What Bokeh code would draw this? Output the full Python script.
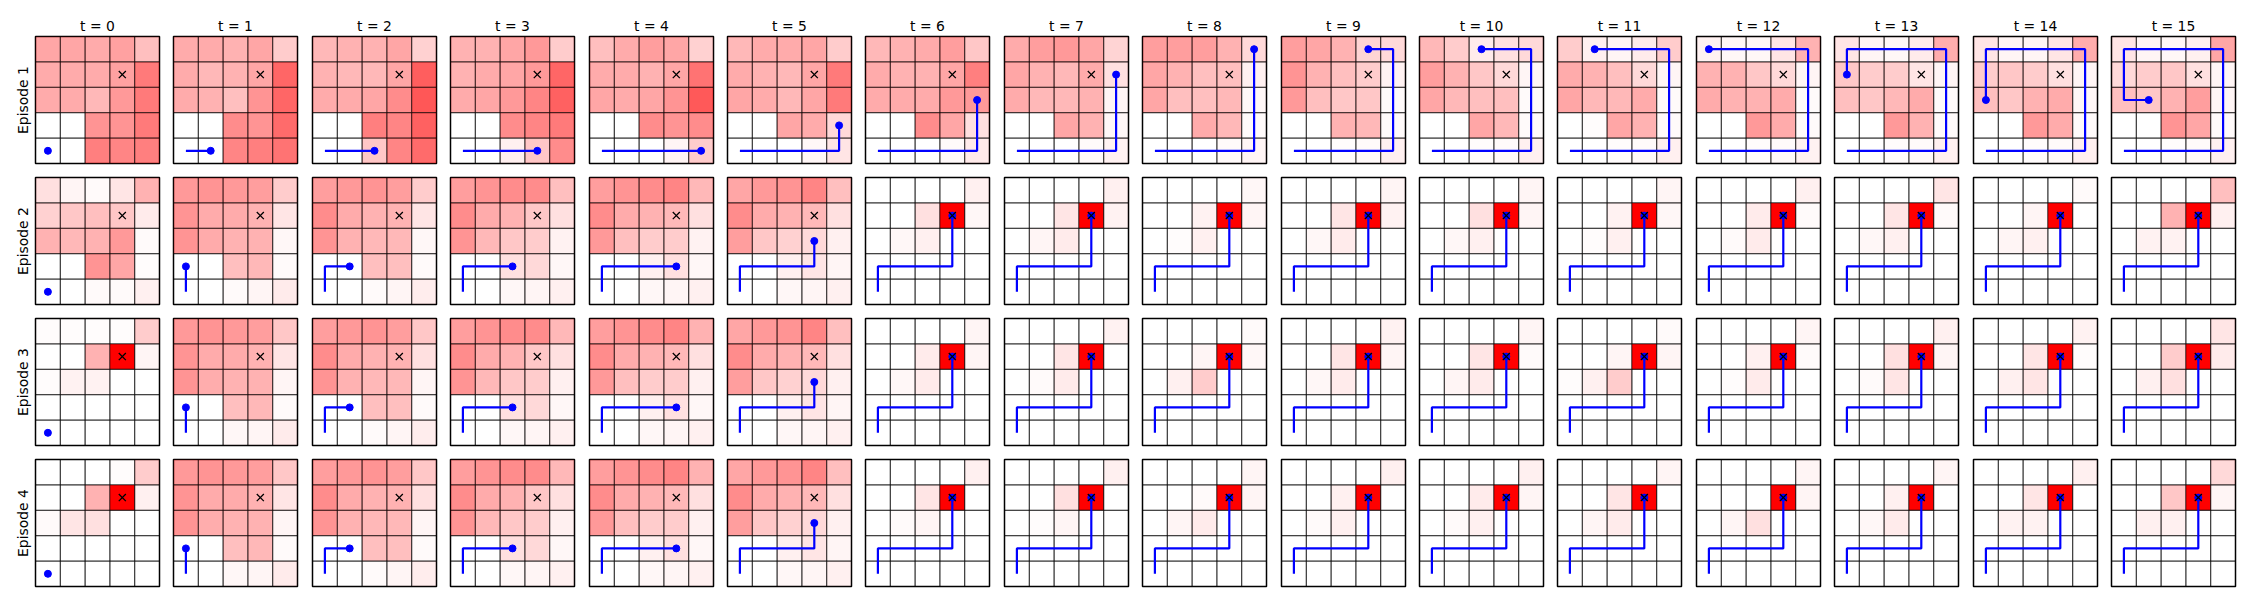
from bokeh.plotting import figure
from bokeh.layouts import gridplot
from bokeh.models import Title, Range1d, ColumnDataSource
from bokeh.embed import file_html
from bokeh.resources import INLINE

# ---------------- data ----------------
EPISODES = ["Episode 1", "Episode 2", "Episode 3", "Episode 4"]
T_LABELS = ["t = %d" % t for t in range(16)]
GOAL = (3, 3)

# agent positions (col, row) with row 0 at the bottom
E1_POS = [(0, 0), (1, 0), (2, 0), (3, 0), (4, 0), (4, 1), (4, 2), (4, 3),
          (4, 4), (3, 4), (2, 4), (1, 4), (0, 4), (0, 3), (0, 2), (1, 2)]
E234_POS = [(0, 0), (0, 1), (1, 1), (2, 1), (3, 1), (3, 2), (3, 3)]

Z = [0, 0, 0, 0, 0]
# cell intensity (percent), each grid listed top row first
HEAT_E1 = [
    [[35, 35, 33, 37, 25], [33, 33, 33, 37, 52], [33, 33, 28, 40, 52], [0, 0, 42, 42, 52], [0, 0, 50, 48, 50]],
    [[33, 33, 30, 35, 20], [33, 28, 30, 35, 60], [33, 30, 25, 42, 60], [0, 0, 45, 42, 58], [0, 0, 48, 50, 55]],
    [[28, 30, 30, 35, 18], [30, 28, 28, 35, 63], [33, 33, 35, 45, 66], [0, 0, 50, 48, 62], [0, 0, 22, 48, 58]],
    [[30, 30, 35, 40, 20], [30, 33, 35, 40, 60], [33, 35, 40, 48, 62], [0, 0, 45, 48, 52], [0, 0, 6, 22, 45]],
    [[25, 33, 38, 35, 18], [33, 33, 30, 35, 55], [35, 33, 35, 42, 65], [0, 0, 45, 42, 45], [0, 0, 0, 4, 20]],
    [[28, 33, 33, 35, 20], [33, 30, 28, 35, 52], [35, 33, 28, 35, 52], [0, 0, 35, 33, 15], [0, 0, 0, 3, 10]],
    [[28, 30, 33, 38, 22], [33, 30, 30, 35, 50], [33, 33, 33, 40, 40], [0, 0, 45, 35, 12], [0, 0, 0, 2, 8]],
    [[33, 38, 40, 35, 17], [35, 30, 28, 33, 12], [33, 28, 28, 30, 4], [0, 0, 35, 30, 3], [0, 0, 0, 2, 5]],
    [[38, 38, 38, 30, 15], [35, 30, 25, 25, 6], [35, 25, 25, 28, 3], [0, 0, 33, 28, 2], [0, 0, 0, 2, 4]],
    [[38, 35, 30, 17, 15], [42, 30, 25, 20, 5], [40, 25, 22, 22, 2], [0, 0, 30, 28, 2], [0, 0, 1, 2, 6]],
    [[28, 20, 8, 12, 15], [38, 30, 22, 15, 4], [35, 28, 25, 25, 2], [0, 0, 35, 28, 2], [0, 0, 1, 2, 6]],
    [[20, 6, 4, 8, 20], [33, 30, 25, 15, 4], [35, 28, 28, 33, 2], [0, 1, 35, 30, 2], [0, 0, 1, 2, 6]],
    [[5, 3, 3, 10, 30], [30, 30, 22, 15, 4], [33, 30, 30, 33, 2], [0, 0, 40, 33, 2], [0, 0, 1, 2, 5]],
    [[10, 4, 3, 8, 32], [22, 20, 20, 10, 4], [25, 22, 28, 33, 2], [0, 0, 40, 30, 2], [0, 0, 1, 2, 6]],
    [[10, 4, 4, 10, 32], [20, 22, 20, 12, 4], [25, 22, 30, 33, 3], [0, 0, 40, 33, 2], [0, 0, 1, 2, 6]],
    [[10, 4, 3, 6, 35], [15, 20, 22, 12, 4], [25, 22, 30, 38, 4], [0, 0, 42, 35, 2], [0, 0, 1, 2, 6]],
]
HEAT_E2 = [
    [[12, 4, 2, 10, 30], [18, 22, 25, 22, 8], [30, 28, 30, 40, 2], [0, 0, 42, 35, 1], [0, 0, 2, 2, 6]],
    [[40, 42, 40, 38, 20], [42, 33, 33, 30, 10], [42, 33, 30, 30, 3], [0, 0, 25, 28, 2], [0, 0, 2, 4, 8]],
    [[38, 40, 42, 38, 20], [45, 33, 30, 30, 10], [42, 30, 28, 28, 3], [0, 0, 25, 25, 2], [0, 0, 2, 4, 7]],
    [[38, 42, 45, 45, 25], [45, 33, 30, 22, 12], [42, 28, 22, 20, 5], [0, 0, 12, 15, 3], [0, 0, 3, 4, 6]],
    [[38, 42, 45, 48, 28], [45, 33, 30, 28, 12], [40, 25, 20, 20, 5], [0, 0, 6, 12, 3], [0, 0, 3, 4, 6]],
    [[35, 40, 42, 48, 25], [45, 33, 30, 28, 12], [38, 22, 18, 15, 6], [0, 0, 6, 10, 4], [0, 0, 3, 4, 6]],
    [[0, 0, 0, 0, 6], [0, 0, 12, 100, 3], [0, 3, 6, 0, 0], Z, Z],
    [[0, 0, 0, 0, 6], [0, 0, 10, 100, 5], [0, 4, 8, 0, 0], Z, Z],
    [[0, 0, 0, 0, 3], [0, 0, 5, 100, 4], [0, 1, 6, 0, 0], Z, Z],
    [[0, 0, 0, 0, 4], [0, 0, 10, 100, 5], [0, 3, 8, 0, 0], Z, Z],
    [[0, 0, 0, 0, 4], [0, 0, 12, 100, 4], [0, 3, 6, 0, 0], Z, Z],
    [[0, 0, 0, 0, 4], [0, 0, 5, 100, 3], [0, 1, 6, 0, 0], Z, Z],
    [[0, 0, 0, 0, 6], [0, 0, 8, 100, 2], [0, 2, 8, 0, 0], Z, Z],
    [[0, 0, 0, 0, 10], [0, 0, 10, 100, 2], [0, 3, 6, 0, 0], Z, Z],
    [[0, 0, 0, 0, 2], [0, 0, 4, 100, 0], [0, 4, 6, 0, 0], Z, Z],
    [[0, 0, 0, 0, 25], [0, 0, 30, 100, 6], [0, 5, 5, 0, 0], Z, Z],
]
HEAT_E3 = [
    [[1, 1, 1, 1, 20], [0, 0, 30, 100, 4], [1, 5, 5, 0, 0], Z, Z],
    [[40, 42, 40, 38, 22], [42, 33, 33, 30, 10], [42, 32, 30, 30, 4], [0, 0, 25, 28, 2], [0, 0, 3, 4, 8]],
    [[38, 40, 42, 38, 22], [45, 33, 30, 30, 12], [42, 30, 28, 28, 4], [0, 0, 25, 25, 2], [0, 0, 2, 4, 7]],
    [[38, 42, 45, 45, 28], [45, 33, 30, 22, 12], [42, 28, 22, 20, 6], [0, 0, 12, 15, 3], [0, 0, 3, 4, 6]],
    [[38, 42, 45, 48, 30], [45, 33, 30, 28, 12], [40, 25, 20, 20, 6], [0, 0, 6, 12, 3], [0, 0, 3, 4, 6]],
    [[35, 40, 42, 48, 25], [45, 33, 30, 28, 12], [38, 22, 18, 15, 6], [0, 0, 6, 10, 4], [0, 0, 3, 4, 6]],
    [[0, 0, 0, 0, 4], [0, 0, 8, 100, 4], [0, 3, 8, 0, 0], Z, Z],
    [[0, 0, 0, 0, 5], [0, 0, 10, 100, 0], [0, 2, 8, 0, 0], Z, Z],
    [[0, 0, 0, 0, 2], [0, 0, 4, 100, 3], [0, 6, 20, 0, 0], Z, Z],
    [[0, 0, 0, 0, 5], [0, 0, 10, 100, 4], [0, 3, 8, 0, 0], Z, Z],
    [[0, 0, 0, 0, 4], [0, 0, 10, 100, 2], [0, 4, 8, 0, 0], Z, Z],
    [[0, 0, 0, 0, 2], [0, 0, 4, 100, 4], [1, 6, 20, 0, 0], Z, Z],
    [[0, 0, 0, 0, 4], [0, 0, 6, 100, 2], [0, 1, 8, 0, 0], Z, Z],
    [[0, 0, 0, 0, 6], [0, 0, 12, 100, 4], [0, 2, 10, 0, 0], Z, Z],
    [[0, 0, 0, 0, 5], [0, 0, 10, 100, 1], [0, 6, 10, 0, 0], Z, Z],
    [[0, 0, 0, 0, 10], [0, 0, 20, 100, 8], [0, 6, 12, 0, 0], Z, Z],
]
HEAT_E4 = [
    [[0, 0, 0, 1, 20], [0, 0, 30, 100, 6], [2, 10, 12, 0, 0], Z, Z],
    [[40, 42, 40, 38, 22], [42, 33, 33, 30, 10], [42, 32, 30, 30, 4], [0, 0, 25, 28, 2], [0, 0, 3, 4, 8]],
    [[38, 40, 42, 38, 22], [45, 33, 30, 30, 12], [42, 30, 28, 28, 4], [0, 0, 25, 25, 2], [0, 0, 2, 4, 7]],
    [[38, 42, 45, 45, 28], [45, 33, 30, 22, 12], [42, 28, 22, 20, 6], [0, 0, 12, 15, 3], [0, 0, 3, 4, 6]],
    [[38, 42, 45, 48, 30], [45, 33, 30, 28, 12], [40, 25, 20, 20, 6], [0, 0, 6, 12, 3], [0, 0, 3, 4, 6]],
    [[35, 40, 42, 48, 25], [45, 33, 30, 28, 12], [38, 22, 18, 15, 6], [0, 0, 6, 10, 4], [0, 0, 3, 4, 6]],
    [[0, 0, 0, 0, 6], [0, 0, 10, 100, 0], [0, 2, 4, 0, 0], Z, Z],
    [[0, 0, 0, 0, 6], [0, 0, 12, 100, 0], [0, 1, 4, 0, 0], Z, Z],
    [[0, 0, 0, 0, 4], [0, 0, 2, 100, 4], [0, 4, 8, 0, 0], Z, Z],
    [[0, 0, 0, 0, 6], [0, 0, 6, 100, 0], [0, 2, 6, 0, 0], Z, Z],
    [[0, 0, 0, 0, 6], [0, 0, 8, 100, 4], [0, 2, 6, 0, 0], Z, Z],
    [[0, 0, 0, 0, 4], [0, 0, 10, 100, 0], [0, 4, 8, 0, 0], Z, Z],
    [[0, 0, 0, 0, 4], [0, 0, 0, 100, 4], [0, 4, 12, 0, 0], Z, Z],
    [[0, 0, 0, 0, 4], [0, 0, 6, 100, 0], [0, 3, 8, 0, 0], Z, Z],
    [[0, 0, 0, 0, 6], [0, 0, 10, 100, 0], [0, 5, 5, 0, 0], Z, Z],
    [[0, 0, 0, 0, 15], [0, 0, 22, 100, 4], [0, 6, 6, 0, 0], Z, Z],
]
HEATS = [HEAT_E1, HEAT_E2, HEAT_E3, HEAT_E4]
POSITIONS = [E1_POS, E234_POS, E234_POS, E234_POS]

# ---------------- layout ----------------
FONT = "DejaVu Sans"
FW, FH = 124, 127
COL_LEFT = [round(35 + 138.4 * j) for j in range(16)]
ROW_TOP = [36, 177, 318, 459]


def path_at(positions, t):
    return positions[: min(t, len(positions) - 1) + 1]


rows = []
for i in range(4):
    row = []
    tb = ROW_TOP[0] if i == 0 else 7
    y0 = 0 if i == 0 else ROW_TOP[i] - 7
    y1 = ROW_TOP[i + 1] - 7 if i < 3 else ROW_TOP[3] + FH + 6
    h = y1 - y0
    bb = h - tb - FH
    for j in range(16):
        lb = COL_LEFT[0] if j == 0 else 7
        x0 = 0 if j == 0 else COL_LEFT[j] - 7
        x1 = COL_LEFT[j + 1] - 7 if j < 15 else COL_LEFT[15] + FW + 4
        w = x1 - x0
        rb = w - lb - FW
        p = figure(width=w, height=h, x_range=Range1d(0, 5), y_range=Range1d(0, 5),
                   x_axis_type=None, y_axis_type=None, toolbar_location=None,
                   output_backend="svg", min_border_left=lb, min_border_right=rb,
                   min_border_top=tb, min_border_bottom=bb)
        p.outline_line_color = "black"
        p.outline_line_width = 1.5
        p.outline_line_alpha = 1.0
        p.background_fill_color = "white"
        p.border_fill_color = "white"
        if i == 0:
            p.add_layout(Title(text=T_LABELS[j], align="center", text_font=FONT,
                               text_font_size="13.9px", text_font_style="normal",
                               text_color="black", standoff=6), "above")
        if j == 0:
            p.add_layout(Title(text=EPISODES[i], align="center", text_font=FONT,
                               text_font_size="13.9px", text_font_style="normal",
                               text_color="black", standoff=10), "left")

        grid = HEATS[i][j]
        l, r, b, tp, a = [], [], [], [], []
        for ri, vals in enumerate(grid):
            yy = 4 - ri
            for c, v in enumerate(vals):
                l.append(c); r.append(c + 1); b.append(yy); tp.append(yy + 1)
                a.append(v / 100.0)
        src = ColumnDataSource(dict(left=l, right=r, bottom=b, top=tp, alpha=a))
        p.quad(left="left", right="right", bottom="bottom", top="top", source=src,
               fill_color="#ff0000", fill_alpha="alpha", line_color="black",
               line_alpha=0.6, line_width=1)

        pts = path_at(POSITIONS[i], j)
        xs = [c + 0.5 for c, _ in pts]
        ys = [rr + 0.5 for _, rr in pts]
        if len(pts) > 1:
            p.line(xs, ys, line_color="#0000ff", line_width=2.2)
        p.scatter([xs[-1]], [ys[-1]], marker="circle", size=7,
                  fill_color="#0000ff", line_color="#0000ff")
        p.scatter([GOAL[0] + 0.5], [GOAL[1] + 0.5], marker="x", size=10,
                  line_color="black", line_width=1.3)
        row.append(p)
    rows.append(row)

grid_layout = gridplot(rows, toolbar_location=None)
open("out.html", "w").write(file_html(grid_layout, INLINE))
